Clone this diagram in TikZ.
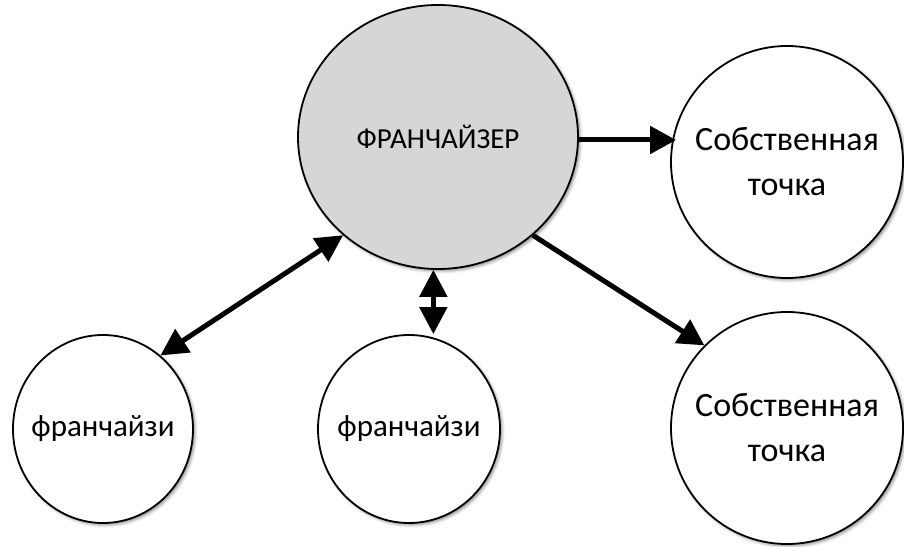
\documentclass[tikz,border=0pt]{standalone}
\usepackage{fontspec}
\setmainfont{Carlito}
\usetikzlibrary{arrows.meta,shapes.geometric,shadows.blur}

\begin{document}
\begin{tikzpicture}[x=1pt,y=1pt,
  bubble/.style={ellipse, draw=black, line width=1.8pt, fill=white, inner sep=0pt,
    align=center, font=\fontsize{31}{45}\selectfont,
    blur shadow={shadow xshift=2pt, shadow yshift=-2pt, shadow blur radius=3pt, shadow opacity=45}},
  outlet/.style={bubble, minimum width=232pt, minimum height=232pt, font=\fontsize{34}{45}\selectfont},
  link/.style={line width=5pt, -{Triangle[length=26pt,width=27pt]}},
  both/.style={line width=5pt, {Triangle[length=27pt,width=27pt]}-{Triangle[length=27pt,width=27pt]}}]
\useasboundingbox (0,0) rectangle (904,546);

% central franchisor
\node[bubble, fill=black!16, minimum width=280pt, minimum height=264pt,
      font=\fontsize{29}{34}\selectfont] (fz) at (438,409) {\raisebox{-4pt}{\makebox[0pt]{ФРАНЧАЙЗЕР}}};

% own outlets (zero-width lines keep the circle size fixed)
\node[outlet] (own1) at (787,384) {\makebox[0pt]{Собственная}\\\makebox[0pt]{точка}};
\node[outlet] (own2) at (787,118) {\makebox[0pt]{Собственная}\\\makebox[0pt]{точка}};

% franchisees
\node[bubble, minimum width=180pt, minimum height=188pt] (fr1) at (103,117) {\makebox[0pt]{франчайзи}};
\node[bubble, minimum width=182pt, minimum height=188pt] (fr2) at (409,117) {\makebox[0pt]{франчайзи}};

% connectors
\draw[link] ([yshift=-3pt]fz.east) -- ([xshift=6pt,yshift=-3pt]fz.east -| own1.west);
\draw[link] (fz.-46) -- (own2.135);
\draw[both] (fr1.52) -- (fz.226);
\draw[both] (fz.268) -- (fz.268 |- fr2.north);
\end{tikzpicture}
\end{document}
